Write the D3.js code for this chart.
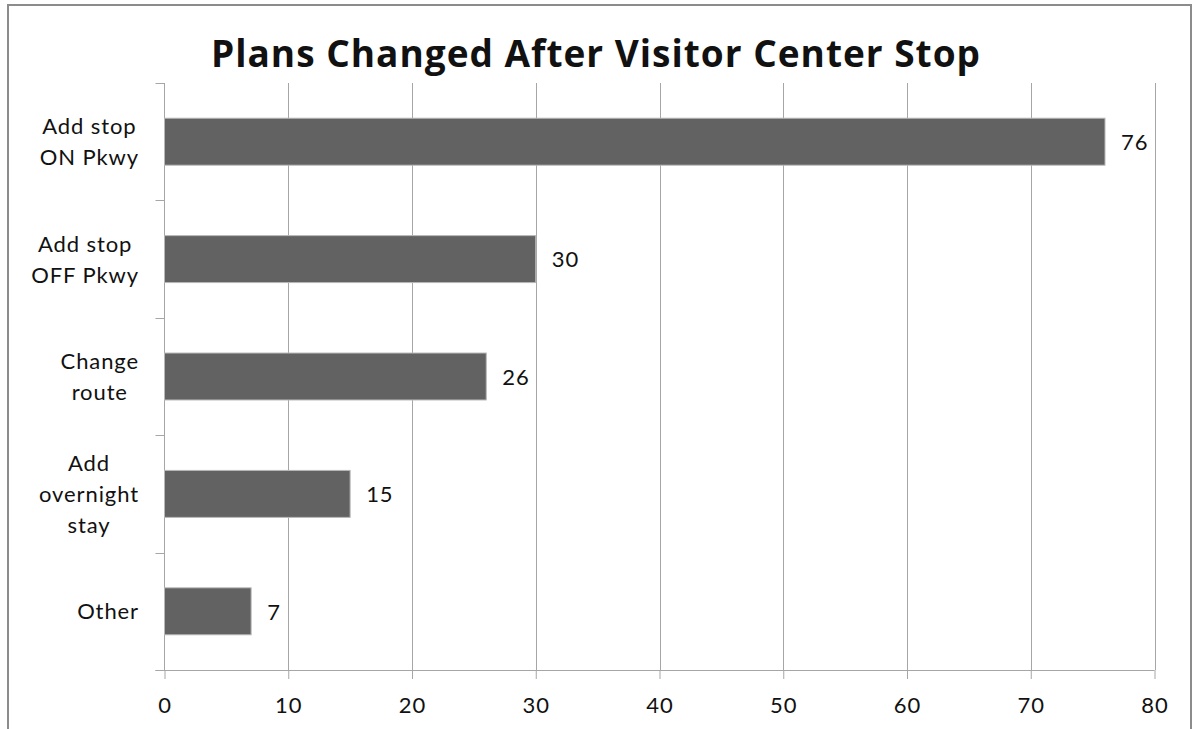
<!DOCTYPE html>
<html>
<head>
<meta charset="utf-8">
<script src="https://cdn.jsdelivr.net/npm/d3@7"></script>
<style>
  html, body { margin: 0; padding: 0; background: #ffffff; }
  svg { display: block; }
  text { font-family: Lato, "Open Sans", sans-serif; fill: #111; }
</style>
</head>
<body>
<svg id="chart" width="1200" height="729"></svg>
<script>
// Responses: how visitors changed their plans after a visitor center stop
const categories = [
  ["Add stop", "ON Pkwy"],
  ["Add stop", "OFF Pkwy"],
  ["Change", "route"],
  ["Add", "overnight", "stay"],
  ["Other"]
];
const values = [76, 30, 26, 15, 7];
const xTicks = [0, 10, 20, 30, 40, 50, 60, 70, 80];
const title = "Plans Changed After Visitor Center Stop";

const svg = d3.select("#chart");
const plot = { left: 164.5, right: 1154.5, top: 83, bottom: 670 };
const gridColor = "#a6a6a6";
const labelFont = { size: 22, spacing: "0.9px", color: "#1a1a1a" };

// outer frame
svg.append("rect")
  .attr("x", 8).attr("y", 5)
  .attr("width", 1183).attr("height", 740)
  .attr("fill", "#fff")
  .attr("stroke", "#8c8c8c").attr("stroke-width", 2);

const x = d3.scaleLinear().domain([0, 80]).range([plot.left, plot.right]);
const ids = categories.map((c, i) => i);
const y = d3.scaleBand().domain(ids).range([plot.top, plot.bottom]).paddingInner(0.6).paddingOuter(0.3);
const yb = d3.scaleBand().domain(ids).range([plot.top, plot.bottom]);

// vertical gridlines
svg.append("g").selectAll("line").data(xTicks.filter(t => t > 0)).join("line")
  .attr("x1", d => Math.round(x(d)) + 0.5).attr("x2", d => Math.round(x(d)) + 0.5)
  .attr("y1", plot.top).attr("y2", plot.bottom)
  .attr("stroke", gridColor).attr("stroke-width", 1);

// bottom axis
const xAxis = d3.axisBottom(x).tickValues(xTicks).tickSize(9).tickPadding(18).tickFormat(d3.format("d"));
const gx = svg.append("g").attr("transform", `translate(0,${plot.bottom})`).call(xAxis);
gx.select(".domain").remove();
gx.selectAll(".tick line").attr("stroke", gridColor);
gx.selectAll(".tick text")
  .attr("font-size", labelFont.size).attr("fill", labelFont.color)
  .style("letter-spacing", labelFont.spacing)
  .style("font-family", "Lato, 'Open Sans', sans-serif");
gx.append("line")
  .attr("x1", plot.left - 9).attr("x2", plot.right)
  .attr("y1", 0.5).attr("y2", 0.5)
  .attr("stroke", gridColor);

// left axis with category boundary ticks
const gy = svg.append("g");
gy.append("line")
  .attr("x1", plot.left).attr("x2", plot.left)
  .attr("y1", plot.top).attr("y2", plot.bottom)
  .attr("stroke", gridColor);
const bounds = ids.map(i => yb(i)).concat([plot.bottom]);
gy.selectAll("line.tk").data(bounds).join("line").attr("class", "tk")
  .attr("x1", plot.left - 9).attr("x2", plot.left)
  .attr("y1", d => Math.round(d) + 0.5).attr("y2", d => Math.round(d) + 0.5)
  .attr("stroke", gridColor);

// category labels: lines centred within a block whose right edge sits near the axis
const lineH = 31;
const blockRight = 139;
gy.selectAll("text.cat").data(categories).join("text").attr("class", "cat")
  .attr("text-anchor", "middle")
  .attr("font-size", labelFont.size)
  .attr("fill", labelFont.color)
  .style("letter-spacing", labelFont.spacing)
  .each(function(lines, i) {
    const cy = yb(i) + yb.bandwidth() / 2;
    const t = d3.select(this);
    const spans = lines.map((ln, k) => t.append("tspan")
      .attr("y", cy + (k - (lines.length - 1) / 2) * lineH)
      .attr("dy", "0.37em")
      .text(ln));
    const maxW = d3.max(spans, s => s.node().getComputedTextLength());
    spans.forEach(s => s.attr("x", blockRight - maxW / 2));
  });

// bars
svg.append("g").selectAll("rect").data(values).join("rect")
  .attr("x", x(0))
  .attr("y", (d, i) => y(i))
  .attr("width", d => x(d) - x(0))
  .attr("height", y.bandwidth())
  .attr("fill", "#626262")
  .attr("stroke", "#b8b8b8").attr("stroke-width", 1);

// value labels
svg.append("g").selectAll("text").data(values).join("text")
  .attr("x", d => x(d) + 16)
  .attr("y", (d, i) => y(i) + y.bandwidth() / 2)
  .attr("dy", "0.38em")
  .attr("font-size", labelFont.size)
  .attr("fill", labelFont.color)
  .style("letter-spacing", labelFont.spacing)
  .text(d => d);

// title
svg.append("text")
  .attr("x", 596).attr("y", 67)
  .attr("text-anchor", "middle")
  .attr("font-size", 37)
  .attr("font-weight", "bold")
  .style("font-family", "'Open Sans', Lato, sans-serif")
  .style("letter-spacing", "1px")
  .attr("fill", "#000")
  .text(title);
</script>
</body>
</html>
